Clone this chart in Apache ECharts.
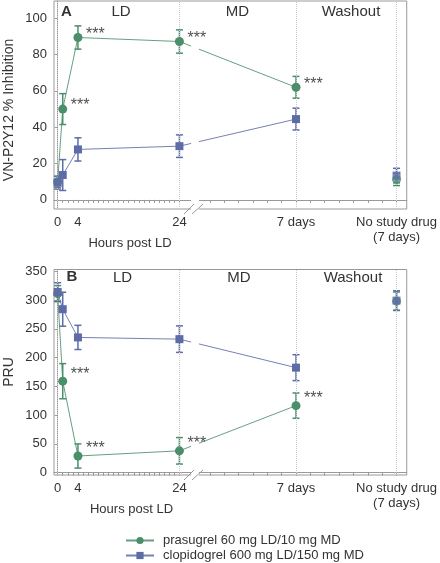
<!DOCTYPE html>
<html><head><meta charset="utf-8">
<script src="https://cdn.jsdelivr.net/npm/echarts@6/dist/echarts.min.js"></script>
<style>html,body{margin:0;padding:0;background:#fff}#c{width:440px;height:563px}</style>
</head><body><div id="c"></div>
<script>
// ---- data ----
const timeHours = [0, 1, 4, 24, 168, 336];           // hours after loading dose (336 = 7 days after MD ends)
const onDrug    = [true, true, true, true, true, false]; // joined by the line (washout point stands alone)
const tickLabelHours = [0, 4, 24, 168, 336];
const tickLabels = ['0', '4', '24', '7 days', 'No study drug\n(7 days)'];
const gridLineHours = [0, 24, 168, 336];
const seriesNames = ['prasugrel 60 mg LD/10 mg MD', 'clopidogrel 600 mg LD/150 mg MD'];

const inhibPras    = [10, 50, 89.4, 87.2, 62, 11.3];
const inhibPrasErr = [3, 8.5, 6.4, 6.4, 6, 3.4];
const inhibClop    = [9.5, 13.7, 27.8, 29.6, 44.5, 13.4];
const inhibClopErr = [3.5, 8.5, 6.4, 6.2, 6, 4];
const inhibSig     = ['', '***', '***', '***', '***', ''];

const pruPras    = [311, 159, 29, 38, 116.5, 298];
const pruPrasErr = [14, 30.5, 21, 23, 22, 16];
const pruClop    = [314, 284, 235, 232, 182.5, 299];
const pruClopErr = [16, 29.5, 21, 23, 22.5, 17];
const pruSig     = ['', '***', '***', '***', '***', ''];

const yTicksA = [0, 20, 40, 60, 80, 100];
const yTicksB = [0, 50, 100, 150, 200, 250, 300, 350];

// ---- broken time axis: hours 0-24 linear, then days on a compressed scale ----
function axisPos(h) { return h <= 24 ? h : 30 + (h / 24 - 1) * 2.83; }
const tickPos = [];
for (let h = 0; h <= 24; h++) tickPos.push(h);
for (let d = 1; d <= 14; d++) tickPos.push(30 + (d - 1) * 2.83);
const breakStart = 26.3, breakEnd = 27.85;

const GREEN = '#4b8e6b', BLUE = '#5d6ba7', TXT = '#333', AX = '#999';

const chart = echarts.init(document.getElementById('c'));

function xAxisDef(gi) {
  return {
    type: 'value', gridIndex: gi, min: -0.72, max: 68.8,
    axisLine: { show: true, lineStyle: { color: AX } },
    axisTick: { show: true, length: 3, customValues: tickPos, lineStyle: { color: AX } },
    splitLine: { show: false },
    axisLabel: {
      customValues: tickLabelHours.map(axisPos), margin: 6,
      fontSize: 13, color: TXT, fontFamily: 'Liberation Sans', lineHeight: 15,
      formatter: v => { const i = tickLabelHours.findIndex(h => Math.abs(axisPos(h) - v) < 1e-6); return i >= 0 ? tickLabels[i] : ''; }
    }
  };
}
function yAxisDef(gi, min, max, ticks) {
  return {
    type: 'value', gridIndex: gi, min: min, max: max,
    axisLine: { show: true, lineStyle: { color: AX } },
    axisTick: { show: true, length: 3, customValues: ticks, lineStyle: { color: AX } },
    splitLine: { show: false },
    axisLabel: { customValues: ticks, margin: 7, fontSize: 13, color: TXT, fontFamily: 'Liberation Sans' }
  };
}
function pts(vals, keep) {
  return timeHours.map((h, i) => [axisPos(h), vals[i], i]).filter(p => keep(p[2])).map(p => [p[0], p[1]]);
}
function dataSeries(gi, name, vals, color, symbol, size, withMark) {
  const common = { name: name, xAxisIndex: gi, yAxisIndex: gi, symbol: symbol, symbolSize: size,
                   itemStyle: { color: color }, z: 5 };
  const line = Object.assign({}, common, {
    type: 'line', showSymbol: true,
    lineStyle: { color: color, width: 1, opacity: 0.85 },
    data: pts(vals, i => onDrug[i])
  });
  if (withMark) {
    line.markLine = {
      silent: true, symbol: 'none', label: { show: false },
      lineStyle: { color: '#c8c8c8', type: 'dotted', width: 1 },
      data: gridLineHours.map(h => ({ xAxis: axisPos(h) }))
    };
  }
  const lone = Object.assign({}, common, { type: 'scatter', data: pts(vals, i => !onDrug[i]) });
  return [line, lone];
}
function sigSeries(gi, vals, sig, offY) {
  return {
    type: 'scatter', xAxisIndex: gi, yAxisIndex: gi, symbolSize: 0, silent: true, z: 30,
    data: timeHours.map((h, i) => [axisPos(h), vals[i], i]).filter(p => sig[p[2]]).map(p => ({
      value: [p[0], p[1]],
      label: { show: true, formatter: sig[p[2]], position: 'right', distance: 8,
               offset: [0, offY], fontSize: 16, color: '#222', fontFamily: 'Liberation Sans' }
    }))
  };
}
function errSeries(gi, vals, errs, color) {
  return {
    type: 'custom', xAxisIndex: gi, yAxisIndex: gi, silent: true, z: 3,
    data: timeHours.map((h, i) => [axisPos(h), vals[i], errs[i]]),
    encode: { x: 0, y: 1 },
    renderItem: (params, api) => {
      const x = api.value(0), y = api.value(1), e = api.value(2);
      const t = api.coord([x, y + e]), b = api.coord([x, y - e]);
      const w = 3.5;
      const st = { stroke: color, lineWidth: 1.5, fill: null };
      return { type: 'group', children: [
        { type: 'line', shape: { x1: t[0], y1: t[1], x2: b[0], y2: b[1] }, style: st },
        { type: 'line', shape: { x1: t[0] - w, y1: t[1], x2: t[0] + w, y2: t[1] }, style: st },
        { type: 'line', shape: { x1: b[0] - w, y1: b[1], x2: b[0] + w, y2: b[1] }, style: st }
      ]};
    }
  };
}

chart.setOption({
  animation: false,
  textStyle: { fontFamily: 'Liberation Sans' },
  grid: [
    { left: 54, top: 1, width: 357.5, height: 208, show: true, borderColor: AX, borderWidth: 1 },
    { left: 54, top: 269.5, width: 357.5, height: 205.5, show: true, borderColor: AX, borderWidth: 1 }
  ],
  xAxis: [xAxisDef(0), xAxisDef(1)],
  yAxis: [yAxisDef(0, -5, 109.5, yTicksA), yAxisDef(1, -4, 353, yTicksB)],
  legend: {
    data: seriesNames, orient: 'vertical', left: 120, top: 528, height: 40,
    itemWidth: 28, itemHeight: 9, itemGap: 0,
    textStyle: { fontSize: 13, lineHeight: 15, color: TXT, fontFamily: 'Liberation Sans', padding: [0, 0, 0, 4] }
  },
  series: [
    errSeries(0, inhibPras, inhibPrasErr, GREEN),
    errSeries(0, inhibClop, inhibClopErr, BLUE),
    ...dataSeries(0, seriesNames[0], inhibPras, GREEN, 'circle', 9, true),
    ...dataSeries(0, seriesNames[1], inhibClop, BLUE, 'rect', 8, false),
    sigSeries(0, inhibPras, inhibSig, -3),
    errSeries(1, pruPras, pruPrasErr, GREEN),
    errSeries(1, pruClop, pruClopErr, BLUE),
    ...dataSeries(1, seriesNames[0], pruPras, GREEN, 'circle', 9, true),
    ...dataSeries(1, seriesNames[1], pruClop, BLUE, 'rect', 8, false),
    sigSeries(1, pruPras, pruSig, -7)
  ]
});

// ---- annotations, axis titles and axis-break marks ----
const g = [];
function txt(x, y, s, size, bold, rot) {
  g.push({ type: 'text', x: x, y: y, rotation: rot || 0, z: 20,
    style: { text: s, fill: TXT, fontSize: size, fontWeight: bold ? 'bold' : 'normal',
             fontFamily: 'Liberation Sans', align: 'center', verticalAlign: 'middle' } });
}
txt(66.5, 12, 'A', 15, true); txt(121, 12, 'LD', 15); txt(237.5, 12, 'MD', 15); txt(351, 12, 'Washout', 15);
txt(72, 277, 'B', 15, true); txt(122.5, 277.5, 'LD', 15); txt(239, 278, 'MD', 15); txt(353, 278, 'Washout', 15);
txt(130, 243, 'Hours post LD', 13); txt(131.5, 509.5, 'Hours post LD', 13);
txt(9.5, 110, 'VN-P2Y12 % Inhibition', 14, false, Math.PI / 2);
txt(9.5, 372, 'PRU', 14, false, Math.PI / 2);
[[0, 1, 209], [1, 269.5, 475]].forEach(([gi, top, bottom]) => {
  const x1 = chart.convertToPixel({ gridIndex: gi }, [breakStart, 0])[0];
  const x2 = chart.convertToPixel({ gridIndex: gi }, [breakEnd, 0])[0];
  g.push({ type: 'rect', z: 15, shape: { x: x1, y: top + 1, width: x2 - x1, height: bottom - top + 1 }, style: { fill: '#fff' } });
  const c = (x1 + x2) / 2;
  [[-11, -1], [-3, 8]].forEach(([a, b]) => g.push({ type: 'line', z: 16,
    shape: { x1: c + a, y1: bottom + 5, x2: c + b, y2: bottom - 5 }, style: { stroke: AX, lineWidth: 1 } }));
});
chart.setOption({ graphic: g });
</script>
</body></html>
